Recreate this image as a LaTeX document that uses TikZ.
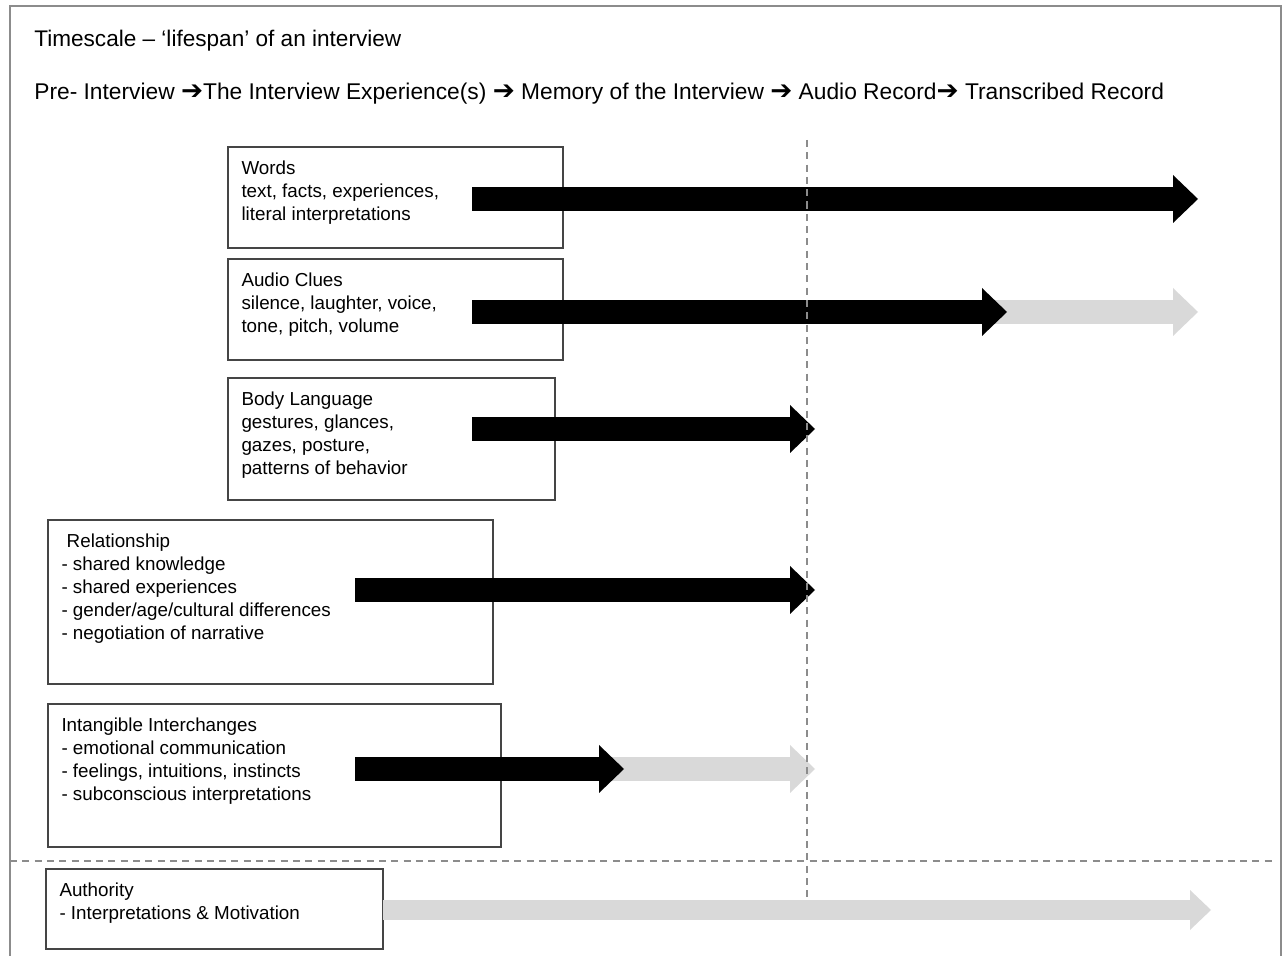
\documentclass[tikz,border=0pt]{standalone}
\usepackage{fontspec}
\setmainfont{Liberation Sans}
\newfontfamily\arrowfont{DejaVu Sans}
\usetikzlibrary{arrows.meta}
\definecolor{fadegray}{HTML}{D9D9D9}
\definecolor{boxgray}{HTML}{454545}
\definecolor{dashgray}{HTML}{8C8C8C}
\newcommand{\rarr}{{\arrowfont\fontsize{15}{15}\selectfont ➔}}

\begin{document}
\begin{tikzpicture}[
  infobox/.style={draw=boxgray, line width=0.8pt, anchor=north west, inner sep=0.27cm, outer sep=0pt, font=\fontsize{10.7}{13.1}\selectfont},
  headline/.style={anchor=base west, inner sep=0pt, font=\fontsize{12.85}{15}\selectfont},
  bigarrow/.style={line width=0.48cm, -{Triangle[line width=0pt, length=0.5cm, width=0.96cm]}},
  slimarrow/.style={line width=0.4cm, -{Triangle[line width=0pt, length=0.42cm, width=0.8cm]}},
  divider/.style={dashgray, line width=0.7pt, dash pattern=on 4pt off 3pt}]
\useasboundingbox (0,0) rectangle (25.68,19.1);
\draw[dashgray, line width=1.1pt] (0.2,-0.5) -- (0.2,18.98) -- (25.62,18.98) -- (25.62,-0.5);

\node[headline] (title) at (0.68,18.16) {Timescale -- `lifespan' of an interview};
\node[headline, font=\fontsize{12.95}{15}\selectfont] (stages) at (0.68,17.1) {Pre- Interview \rarr The Interview Experience(s) \rarr{} Memory of the Interview \rarr{} Audio Record\rarr{} Transcribed Record};

\node[infobox] (words) at (4.56,16.16) {\parbox[t][1.48cm][t]{6.16cm}{Words\\text, facts, experiences,\\literal interpretations}};
\node[infobox] (audio) at (4.56,13.92) {\parbox[t][1.48cm][t]{6.16cm}{Audio Clues\\silence, laughter, voice,\\tone, pitch, volume}};
\node[infobox] (body) at (4.56,11.54) {\parbox[t][1.9cm][t]{6cm}{Body Language\\gestures, glances,\\gazes, posture,\\patterns of behavior}};
\node[infobox] (relation) at (0.96,8.7) {\parbox[t][2.74cm][t]{8.36cm}{\ Relationship\\- shared knowledge\\- shared experiences\\- gender/age/cultural differences\\- negotiation of narrative}};
\node[infobox] (intangible) at (0.96,5.02) {\parbox[t][2.32cm][t]{8.52cm}{Intangible Interchanges\\- emotional communication\\- feelings, intuitions, instincts\\- subconscious interpretations}};
\node[infobox] (authority) at (0.92,1.72) {\parbox[t][1.06cm][t]{6.2cm}{Authority\\- Interpretations \& Motivation}};

\coordinate (w1) at (9.44,15.12); \coordinate (w2) at (23.96,15.12);
\coordinate (a1) at (9.44,12.86); \coordinate (a2) at (20.14,12.86);
\coordinate (a3) at (19.6,12.86); \coordinate (a4) at (23.96,12.86);
\coordinate (b1) at (9.44,10.52); \coordinate (b2) at (16.3,10.52);
\coordinate (r1) at (7.1,7.3);    \coordinate (r2) at (16.3,7.3);
\coordinate (i1) at (7.1,3.72);   \coordinate (i2) at (12.48,3.72);
\coordinate (i3) at (12,3.72);    \coordinate (i4) at (16.3,3.72);
\coordinate (au) at (24.22,0.9);

\draw[bigarrow, fadegray] (a3) -- (a4);
\draw[bigarrow, fadegray] (i3) -- (i4);
\draw[slimarrow, fadegray] (authority.east |- au) -- (au);
\draw[bigarrow] (w1) -- (w2);
\draw[bigarrow] (a1) -- (a2);
\draw[bigarrow] (b1) -- (b2);
\draw[bigarrow] (r1) -- (r2);
\draw[bigarrow] (i1) -- (i2);

\coordinate (vtop) at (16.14,16.3); \coordinate (vbot) at (16.14,1.06);
\coordinate (hleft) at (0.2,1.88);  \coordinate (hright) at (25.44,1.88);
\draw[divider] (vtop) -- (vbot);
\draw[divider] (hleft) -- (hright);
\end{tikzpicture}
\end{document}
